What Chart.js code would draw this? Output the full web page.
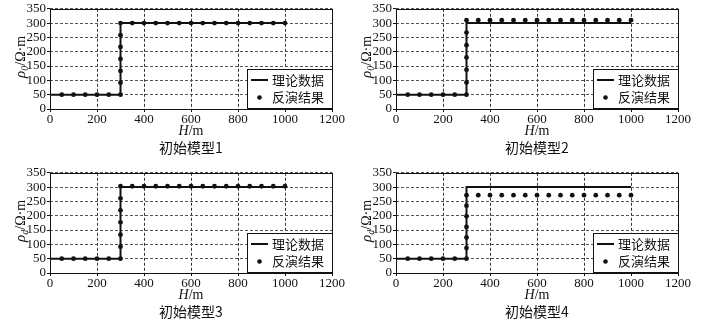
<!DOCTYPE html>
<html>
<head>
<meta charset="utf-8">
<script src="https://cdn.jsdelivr.net/npm/chart.js@4.4.0/dist/chart.umd.min.js"></script>
<style>
  body { margin: 0; background: #fff; width: 701px; height: 327px; overflow: hidden; position: relative; }
  canvas { position: absolute; }
</style>
</head>
<body>
<canvas id="c1" width="346" height="164" style="left:0;top:0"></canvas>
<canvas id="c2" width="346" height="164" style="left:346px;top:0"></canvas>
<canvas id="c3" width="346" height="164" style="left:0;top:164px"></canvas>
<canvas id="c4" width="346" height="164" style="left:346px;top:164px"></canvas>
<script>
// theoretical model (step)
const theoryDepth = [0, 300, 300, 1000];
const theoryRho = [50, 50, 300, 300];

// inversion sample depths
const invDepth = [50, 100, 150, 200, 250, 300, 300, 300, 300, 300, 300, 300,
  350, 400, 450, 500, 550, 600, 650, 700, 750, 800, 850, 900, 950, 1000];

// inversion results for each initial model
const invRho1 = [50, 50, 50, 50, 50, 50, 92, 133, 175, 217, 258, 300,
  300, 300, 300, 300, 300, 300, 300, 300, 300, 300, 300, 300, 300, 300];
const invRho2 = [50, 50, 50, 50, 50, 50, 93, 137, 180, 223, 267, 310,
  310, 310, 310, 310, 310, 310, 310, 310, 310, 310, 310, 310, 310, 310];
const invRho3 = [50, 50, 50, 50, 50, 50, 92, 134, 177, 219, 261, 303,
  303, 303, 303, 303, 303, 303, 303, 303, 303, 303, 303, 303, 303, 303];
const invRho4 = [50, 50, 50, 50, 50, 50, 87, 124, 161, 198, 235, 272,
  272, 272, 272, 272, 272, 272, 272, 272, 272, 272, 272, 272, 272, 272];

const captions = ['初始模型1', '初始模型2', '初始模型3', '初始模型4'];
const rhoSub = ['0', '0', 'd', 'd'];
const seriesNames = ['理论数据', '反演结果'];

const xTicks = [0, 200, 400, 600, 800, 1000, 1200];
const yTicks = [0, 50, 100, 150, 200, 250, 300, 350];

const serif = "'Liberation Serif', 'DejaVu Serif', serif";
const cjk = "'Noto Sans CJK SC', sans-serif";

const toPts = (xs, ys) => xs.map((x, i) => ({ x, y: ys[i] }));

// frame, axis titles, caption and boxed legend
const decor = {
  id: 'decor',
  afterDraw(chart, args, o) {
    const ctx = chart.ctx, a = chart.chartArea;
    ctx.save();
    ctx.setLineDash([]);
    ctx.strokeStyle = '#111';
    ctx.lineWidth = 1;
    ctx.strokeRect(Math.round(a.left) + 0.5, Math.round(a.top) + 0.5,
      Math.round(a.right - a.left), Math.round(a.bottom - a.top));

    const cx = (a.left + a.right) / 2;
    ctx.fillStyle = '#111';
    ctx.textBaseline = 'middle';

    // x title: H/m
    ctx.font = 'italic 14px ' + serif;
    const wH = ctx.measureText('H').width;
    ctx.font = '14px ' + serif;
    const wM = ctx.measureText('/m').width;
    let x0 = cx - (wH + wM) / 2;
    ctx.textAlign = 'left';
    ctx.font = 'italic 14px ' + serif;
    ctx.fillText('H', x0, 131);
    ctx.font = '14px ' + serif;
    ctx.fillText('/m', x0 + wH, 131);

    // caption
    ctx.textAlign = 'center';
    ctx.font = '14px ' + cjk;
    ctx.fillText(o.caption, cx, 148);

    // y title: rho_sub/Ω·m
    ctx.save();
    ctx.translate(21, (a.top + a.bottom) / 2 - 2);
    ctx.rotate(-Math.PI / 2);
    ctx.font = 'italic 15px ' + serif;
    const wR = ctx.measureText('ρ').width;
    ctx.font = 'italic 10px ' + serif;
    const wS = ctx.measureText(o.sub).width;
    ctx.font = '14px ' + serif;
    const wU = ctx.measureText('/Ω·m').width;
    let yx = -(wR + wS + wU) / 2;
    ctx.textAlign = 'left';
    ctx.font = 'italic 15px ' + serif;
    ctx.fillText('ρ', yx, 0);
    ctx.font = 'italic 10px ' + serif;
    ctx.fillText(o.sub, yx + wR, 4);
    ctx.font = '14px ' + serif;
    ctx.fillText('/Ω·m', yx + wR + wS, 0);
    ctx.restore();

    // legend box
    const lx = a.right - 85, ly = a.bottom - 40;
    ctx.fillStyle = '#fff';
    ctx.fillRect(lx, ly, 85, 39);
    ctx.strokeStyle = '#111';
    ctx.strokeRect(Math.round(lx) + 0.5, Math.round(ly) + 0.5, 85, 39);
    ctx.lineWidth = 2;
    ctx.beginPath();
    ctx.moveTo(lx + 4, ly + 11);
    ctx.lineTo(lx + 21, ly + 11);
    ctx.stroke();
    ctx.fillStyle = '#111';
    ctx.beginPath();
    ctx.arc(lx + 12.5, ly + 28.5, 2.3, 0, Math.PI * 2);
    ctx.fill();
    ctx.font = '13px ' + cjk;
    ctx.textAlign = 'left';
    ctx.textBaseline = 'middle';
    const ds = chart.data.datasets;
    ctx.fillText(ds[0].label, lx + 25, ly + 11);
    ctx.fillText(ds[1].label, lx + 25, ly + 28);
    ctx.restore();
  }
};

function makeChart(id, invRho, caption, sub) {
  const axisFont = { family: serif, size: 13 };
  return new Chart(document.getElementById(id), {
    type: 'scatter',
    data: {
      datasets: [
        { label: seriesNames[0], data: toPts(theoryDepth, theoryRho), showLine: true,
          borderColor: '#111', borderWidth: 2, pointRadius: 0, order: 2 },
        { label: seriesNames[1], data: toPts(invDepth, invRho), showLine: false,
          backgroundColor: '#111', borderColor: '#111', pointRadius: 2.4, pointBorderWidth: 0, order: 1 }
      ]
    },
    options: {
      responsive: false,
      animation: false,
      layout: { padding: { top: 7, right: 14, left: 0, bottom: 0 } },
      plugins: {
        legend: { display: false },
        tooltip: { enabled: false },
        decor: { caption, sub }
      },
      scales: {
        x: {
          type: 'linear', min: 0, max: 1200,
          afterBuildTicks: s => { s.ticks = xTicks.map(v => ({ value: v })); },
          afterFit: s => { s.height = 55; },
          ticks: { color: '#111', font: axisFont, padding: 0, maxRotation: 0, autoSkip: false,
            callback: v => String(v) },
          grid: { color: '#333', tickColor: '#111', tickLength: 3, tickBorderDash: [] },
          border: { display: false, dash: [3, 2] }
        },
        y: {
          type: 'linear', min: 0, max: 350,
          afterBuildTicks: s => { s.ticks = yTicks.map(v => ({ value: v })); },
          afterFit: s => { s.width = 50; },
          ticks: { color: '#111', font: axisFont, padding: 1, autoSkip: false,
            callback: v => String(v) },
          grid: { color: '#555', tickColor: '#111', tickLength: 3, tickBorderDash: [] },
          border: { display: false, dash: [3, 2] }
        }
      }
    },
    plugins: [decor]
  });
}

makeChart('c1', invRho1, captions[0], rhoSub[0]);
makeChart('c2', invRho2, captions[1], rhoSub[1]);
makeChart('c3', invRho3, captions[2], rhoSub[2]);
makeChart('c4', invRho4, captions[3], rhoSub[3]);
</script>
</body>
</html>
